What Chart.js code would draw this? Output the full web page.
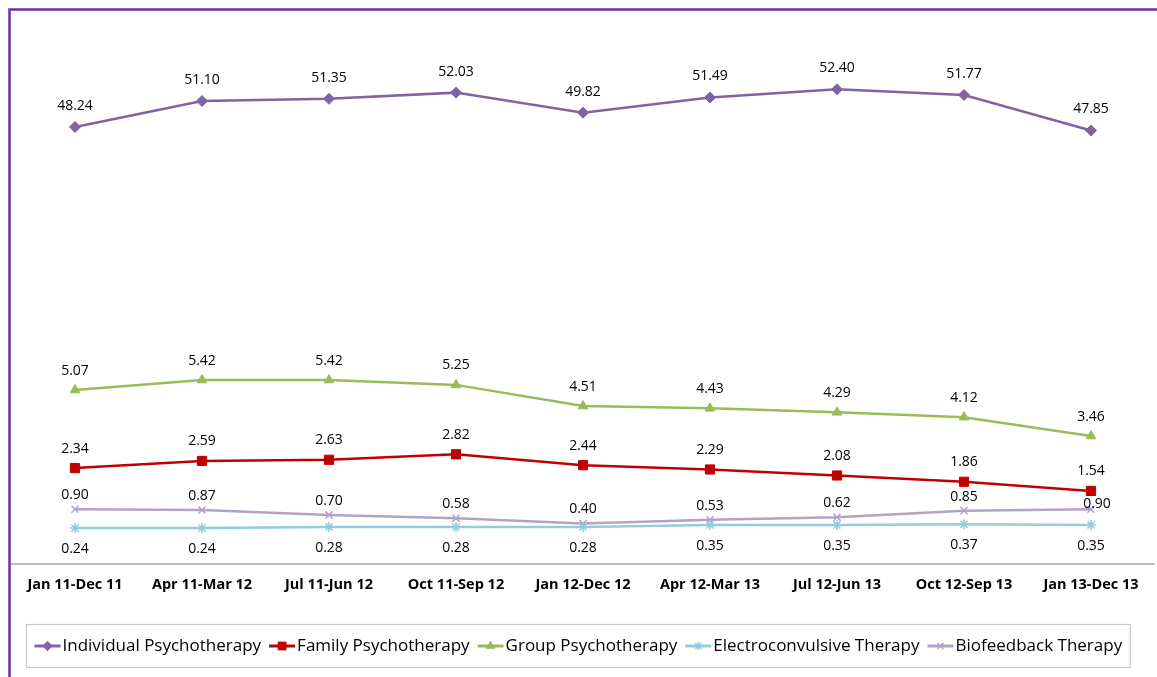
<!DOCTYPE html>
<html>
<head>
<meta charset="utf-8">
<script src="https://cdn.jsdelivr.net/npm/chart.js@4/dist/chart.umd.min.js"></script>
<style>
  html, body { margin: 0; padding: 0; background: #ffffff; }
  #wrap { width: 1157px; height: 677px; position: relative; }
</style>
</head>
<body>
<div id="wrap"><canvas id="c" width="1157" height="677"></canvas></div>
<script>
const categories = ["Jan 11-Dec 11", "Apr 11-Mar 12", "Jul 11-Jun 12", "Oct 11-Sep 12", "Jan 12-Dec 12", "Apr 12-Mar 13", "Jul 12-Jun 13", "Oct 12-Sep 13", "Jan 13-Dec 13"];
const seriesNames = ["Individual Psychotherapy", "Family Psychotherapy", "Group Psychotherapy", "Electroconvulsive Therapy", "Biofeedback Therapy"];
const individual = [48.24, 51.10, 51.35, 52.03, 49.82, 51.49, 52.40, 51.77, 47.85];
const family = [2.34, 2.59, 2.63, 2.82, 2.44, 2.29, 2.08, 1.86, 1.54];
const group = [5.07, 5.42, 5.42, 5.25, 4.51, 4.43, 4.29, 4.12, 3.46];
const electro = [0.24, 0.24, 0.28, 0.28, 0.28, 0.35, 0.35, 0.37, 0.35];
const biofeedback = [0.90, 0.87, 0.70, 0.58, 0.40, 0.53, 0.62, 0.85, 0.90];

const styles = [
  { color: '#8064A2', point: 'rectRot', radius: 5.5, yAxisID: 'y', labelOffset: -21 },
  { color: '#C00000', point: 'rect', radius: 6.5, yAxisID: 'y2', labelOffset: -19.5 },
  { color: '#9BBB59', point: 'triangle', radius: 5.5, yAxisID: 'y2', labelOffset: -19.5 },
  { color: '#92CDDC', point: 'star', radius: 5, yAxisID: 'y2', labelOffset: 21 },
  { color: '#B3A2C7', point: 'crossRot', radius: 5, yAxisID: 'y2', labelOffset: -14 }
];
const values = [individual, family, group, electro, biofeedback];
// manual nudge of one data label (as in the original, to avoid a marker)
const labelNudges = { '4-8': { dx: 6, dy: 9 } };

const datasets = values.map((v, i) => ({
  label: seriesNames[i],
  data: v,
  yAxisID: styles[i].yAxisID,
  borderColor: styles[i].color,
  backgroundColor: styles[i].color,
  pointBackgroundColor: styles[i].color,
  pointBorderColor: styles[i].color,
  pointStyle: styles[i].point,
  pointRadius: styles[i].radius,
  pointBorderWidth: (styles[i].point === 'star' || styles[i].point === 'crossRot') ? 1.5 : 1,
  borderWidth: 2.5,
  tension: 0,
  fill: false,
  labelOffset: styles[i].labelOffset,
  order: i
}));

const framePlugin = {
  id: 'frame',
  beforeDraw(chart) {
    const ctx = chart.ctx;
    ctx.save();
    ctx.fillStyle = '#ffffff';
    ctx.fillRect(0, 0, chart.width, chart.height);
    ctx.strokeStyle = '#7030A0';
    ctx.lineWidth = 2.5;
    ctx.beginPath();
    ctx.moveTo(9.5, chart.height);
    ctx.lineTo(9.5, 9.5);
    ctx.lineTo(chart.width, 9.5);
    ctx.stroke();
    ctx.restore();
  }
};

const valueLabelPlugin = {
  id: 'valueLabels',
  afterDatasetsDraw(chart) {
    const ctx = chart.ctx;
    ctx.save();
    ctx.font = '14px "Open Sans"';
    ctx.fillStyle = '#000000';
    ctx.textAlign = 'center';
    ctx.textBaseline = 'middle';
    chart.data.datasets.forEach((ds, i) => {
      const meta = chart.getDatasetMeta(i);
      meta.data.forEach((pt, j) => {
        const n = labelNudges[i + '-' + j] || { dx: 0, dy: 0 };
        ctx.fillText(ds.data[j].toFixed(2), pt.x + n.dx, pt.y + ds.labelOffset + n.dy);
      });
    });
    ctx.restore();
  }
};

const legendPlugin = {
  id: 'customLegend',
  afterDraw(chart) {
    const ctx = chart.ctx;
    ctx.save();
    ctx.font = '17px "Open Sans"';
    const sampleW = 26, gapText = 2, gapItem = 8, padX = 8;
    const items = chart.data.datasets.map(ds => ({ ds, w: sampleW + gapText + ctx.measureText(ds.label).width }));
    const total = items.reduce((s, it) => s + it.w, 0) + gapItem * (items.length - 1) + padX * 2;
    const boxL = Math.round((chart.width - total) / 2) - 0.5;
    const boxT = 624.5, boxH = 43;
    ctx.strokeStyle = '#C8C8C8';
    ctx.lineWidth = 1.2;
    ctx.strokeRect(boxL, boxT, total, boxH);
    const cy = boxT + boxH / 2;
    let x = boxL + padX;
    items.forEach(it => {
      const ds = it.ds;
      ctx.strokeStyle = ds.borderColor;
      ctx.lineWidth = 3;
      ctx.beginPath();
      ctx.moveTo(x, cy);
      ctx.lineTo(x + sampleW, cy);
      ctx.stroke();
      ctx.fillStyle = ds.backgroundColor;
      ctx.lineWidth = ds.pointBorderWidth;
      Chart.helpers.drawPoint(ctx, { pointStyle: ds.pointStyle, radius: ds.pointRadius * 0.85, rotation: 0, borderWidth: ds.pointBorderWidth }, x + sampleW / 2, cy);
      ctx.fillStyle = '#000000';
      ctx.textAlign = 'left';
      ctx.textBaseline = 'middle';
      ctx.fillText(ds.label, x + sampleW + gapText, cy);
      x += it.w + gapItem;
    });
    ctx.restore();
  }
};

new Chart(document.getElementById('c'), {
  type: 'line',
  data: { labels: categories, datasets },
  options: {
    responsive: false,
    animation: false,
    layout: { autoPadding: false, padding: { left: 11.5, right: 2.5, top: 20.5, bottom: 0 } },
    plugins: { legend: { display: false }, tooltip: { enabled: false } },
    scales: {
      x: {
        offset: true,
        grid: { display: false, drawTicks: false },
        border: { display: true, color: '#BFBFBF', width: 2 },
        ticks: { color: '#000000', font: { family: '"Open Sans"', size: 14.5, weight: 'bold' }, padding: 13, maxRotation: 0, autoSkip: false },
        afterFit(scale) { scale.height = 113.5; scale.paddingLeft = 0; scale.paddingRight = 0; }
      },
      y: { display: false, min: 0, max: 60 },
      y2: { display: false, min: -1, max: 18 }
    }
  },
  plugins: [framePlugin, valueLabelPlugin, legendPlugin]
});
</script>
</body>
</html>
